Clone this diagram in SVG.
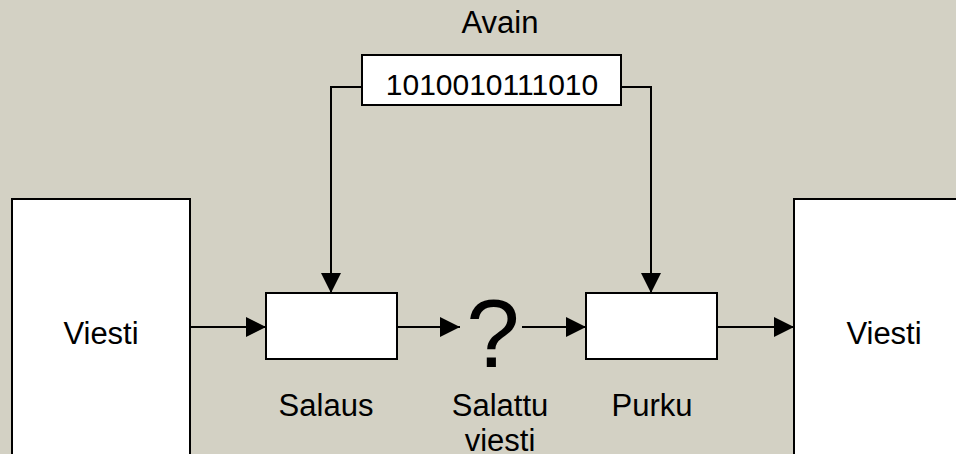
<svg xmlns="http://www.w3.org/2000/svg" width="956" height="454" viewBox="0 0 956 454">
  <style>
    .box { fill: #ffffff; stroke: #000000; stroke-width: 2; }
    .wire { fill: none; stroke: #000000; stroke-width: 2; }
    .lbl { font-family: "Liberation Sans", Arial, sans-serif; font-size: 31px; fill: #000000; text-anchor: middle; }
  </style>
  <defs>
    <marker id="head" viewBox="0 0 20 20" refX="20" refY="10" markerWidth="20" markerHeight="20" markerUnits="userSpaceOnUse" orient="auto">
      <path d="M0,0 L20,10 L0,20 z" fill="#000000"/>
    </marker>
  </defs>

  <!-- background -->
  <rect x="0" y="0" width="956" height="454" fill="#d3d1c4"/>

  <!-- connectors -->
  <g id="connectors">
    <polyline class="wire" points="362,87 331,87 331,293" marker-end="url(#head)"/>
    <polyline class="wire" points="621,87 651,87 651,293" marker-end="url(#head)"/>
    <line class="wire" x1="190" y1="327" x2="266" y2="327" marker-end="url(#head)"/>
    <line class="wire" x1="397" y1="327" x2="460" y2="327" marker-end="url(#head)"/>
    <line class="wire" x1="522" y1="327" x2="586" y2="327" marker-end="url(#head)"/>
    <line class="wire" x1="717" y1="327" x2="794" y2="327" marker-end="url(#head)"/>
  </g>

  <!-- key -->
  <g id="key">
    <text class="lbl" x="500" y="33">Avain</text>
    <rect class="box" x="362" y="55" width="259" height="50"/>
    <text class="lbl" x="492" y="95" style="font-size:30px">1010010111010</text>
  </g>

  <!-- plaintext, sender side -->
  <g id="message-in">
    <rect class="box" x="12" y="199" width="178" height="280"/>
    <text class="lbl" x="101" y="344">Viesti</text>
  </g>

  <!-- encryption -->
  <g id="encrypt">
    <rect class="box" x="266" y="293" width="131" height="66"/>
    <text class="lbl" x="326" y="416">Salaus</text>
  </g>

  <!-- ciphertext -->
  <g id="ciphertext">
    <text class="lbl" x="493" y="367" style="font-size:96px">?</text>
    <text class="lbl" x="500" y="416">Salattu</text>
    <text class="lbl" x="500" y="451">viesti</text>
  </g>

  <!-- decryption -->
  <g id="decrypt">
    <rect class="box" x="586" y="293" width="131" height="66"/>
    <text class="lbl" x="652" y="416">Purku</text>
  </g>

  <!-- plaintext, receiver side -->
  <g id="message-out">
    <rect class="box" x="794" y="199" width="200" height="280"/>
    <text class="lbl" x="884" y="344">Viesti</text>
  </g>
</svg>
